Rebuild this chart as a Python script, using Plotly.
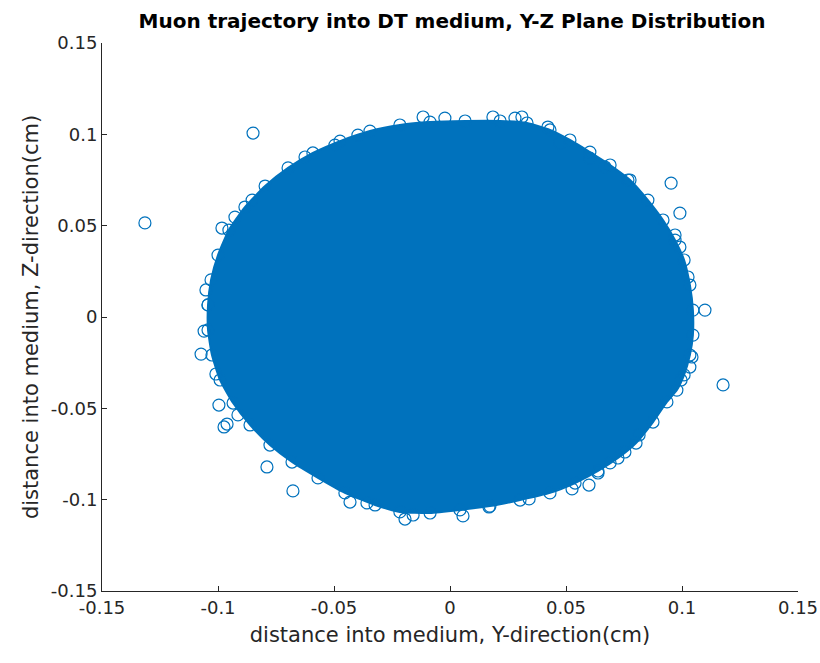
import plotly.graph_objects as go

# Outline of the dense core of the muon hit distribution (Y, Z in cm), traced clockwise
core_y = [-0.1043, -0.1030, -0.1000, -0.0953, -0.0884, -0.0797, -0.0698, -0.0591,
          -0.0474, -0.0345, -0.0216, -0.0086, 0.0065, 0.0216, 0.0332, 0.0431,
          0.0517, 0.0603, 0.0690, 0.0776, 0.0853, 0.0918, 0.0970, 0.1009,
          0.1034, 0.1047, 0.1047, 0.1034, 0.1009, 0.0978, 0.0935, 0.0875,
          0.0802, 0.0724, 0.0638, 0.0539, 0.0431, 0.0302, 0.0172, 0.0043,
          -0.0086, -0.0216, -0.0323, -0.0453, -0.0569, -0.0681, -0.0776, -0.0862,
          -0.0935, -0.0991, -0.1026, -0.1043]
core_z = [0.0066, 0.0203, 0.0339, 0.0476, 0.0602, 0.0717, 0.0816, 0.0898,
          0.0963, 0.1018, 0.1051, 0.1067, 0.1073, 0.1073, 0.1062, 0.1024,
          0.0969, 0.0903, 0.0832, 0.0750, 0.0640, 0.0531, 0.0421, 0.0312,
          0.0175, 0.0038, -0.0099, -0.0208, -0.0317, -0.0400, -0.0465, -0.0575,
          -0.0690, -0.0772, -0.0843, -0.0909, -0.0963, -0.1002, -0.1035, -0.1056,
          -0.1073, -0.1067, -0.1029, -0.0963, -0.0881, -0.0794, -0.0701, -0.0591,
          -0.0471, -0.0345, -0.0208, -0.0071]

# Individual hits on the fringe of the distribution and stray outliers (cm)
edge_y = [-0.0116, -0.0022, 0.0185, 0.0280, 0.0310, 0.0422, 0.0474, 0.0603,
          0.0668, 0.0767, 0.0953, 0.0991, 0.0970, 0.0991, 0.1026, 0.1099,
          0.1043, 0.1034, 0.0996, 0.1177, 0.0815, 0.0754, 0.0690, 0.0638,
          0.0599, 0.0526, 0.0341, 0.0168, 0.0056, -0.0159, -0.0194, -0.0358,
          -0.0431, -0.0677, -0.0789, -0.0914, -0.0961, -0.0974, -0.0996, -0.1009,
          -0.1073, -0.1060, -0.1052, -0.0983, -0.0927, -0.0853, -0.0625, -0.0496,
          -0.0397, -0.0849, -0.1315]
edge_z = [0.1095, 0.1089, 0.1095, 0.1089, 0.1095, 0.1040, 0.0952, 0.0870,
          0.0821, 0.0750, 0.0733, 0.0569, 0.0449, 0.0383, 0.0219, 0.0038,
          -0.0219, -0.0274, -0.0345, -0.0372, -0.0646, -0.0739, -0.0799, -0.0854,
          -0.0920, -0.0941, -0.0996, -0.1040, -0.1089, -0.1084, -0.1106, -0.1018,
          -0.1013, -0.0952, -0.0821, -0.0536, -0.0586, -0.0602, -0.0482, -0.0312,
          -0.0203, -0.0077, 0.0148, 0.0487, 0.0547, 0.0640, 0.0876, 0.0941,
          0.0996, 0.1007, 0.0515]

tick_vals = [-0.15, -0.1, -0.05, 0, 0.05, 0.1, 0.15]
tick_text = ["-0.15", "-0.1", "-0.05", "0", "0.05", "0.1", "0.15"]

BLUE = "#0072BD"
AXIS = "#262626"
FONT = "DejaVu Sans, Arial, Helvetica, sans-serif"

marker_style = dict(symbol="circle-open", size=12, color=BLUE, line=dict(width=1.2))

fig = go.Figure()

fig.add_trace(go.Scatter(
    x=core_y + core_y[:1], y=core_z + core_z[:1],
    mode="lines+markers",
    fill="toself", fillcolor=BLUE,
    line=dict(color=BLUE, width=2, shape="spline", smoothing=0.5),
    marker=marker_style,
    hoverinfo="skip", showlegend=False,
))

fig.add_trace(go.Scatter(
    x=edge_y, y=edge_z,
    mode="markers",
    marker=marker_style,
    showlegend=False,
))

axis_common = dict(
    range=[-0.15, 0.15],
    tickvals=tick_vals, ticktext=tick_text,
    ticks="inside", ticklen=5, tickwidth=1, tickcolor=AXIS,
    showline=True, linecolor=AXIS, linewidth=1, mirror=False,
    showgrid=False, zeroline=False, automargin=False,
    tickfont=dict(family=FONT, size=18, color=AXIS),
)

fig.update_layout(
    width=820, height=663,
    margin=dict(l=102, r=22, t=43, b=72),
    paper_bgcolor="white", plot_bgcolor="white",
    title=dict(
        text="<b>Muon trajectory into DT medium, Y-Z Plane Distribution</b>",
        x=452 / 820, xref="container", xanchor="center",
        y=1 - 21 / 663, yref="container", yanchor="middle",
        font=dict(family=FONT, size=20, color="black"),
    ),
    xaxis=dict(**axis_common,
               title=dict(text="distance into medium, Y-direction(cm)", standoff=10,
                          font=dict(family=FONT, size=21, color=AXIS))),
    yaxis=dict(**axis_common,
               title=dict(text="distance into medium, Z-direction(cm)", standoff=6,
                          font=dict(family=FONT, size=21, color=AXIS))),
)

fig.write_html("out.html")
